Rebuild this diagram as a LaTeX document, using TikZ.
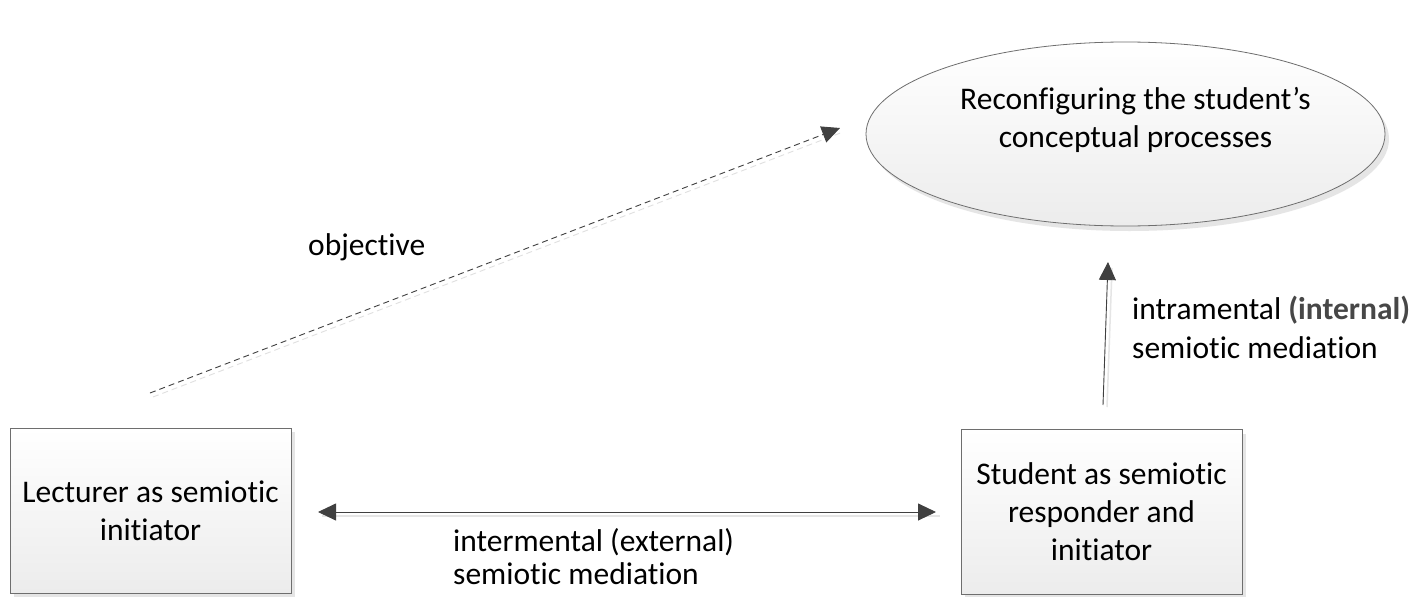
\documentclass[tikz,border=0pt]{standalone}
\usepackage{fontspec}
\setmainfont{Carlito}[Ligatures=NoCommon]
\usetikzlibrary{arrows.meta,shadows,shapes.geometric,calc}
\definecolor{edge}{RGB}{110,110,110}
\definecolor{fillhi}{RGB}{255,255,255}
\definecolor{filllo}{RGB}{236,236,236}
\definecolor{arrowgray}{RGB}{64,64,64}
\begin{document}
\begin{tikzpicture}[x=1pt,y=-1pt,
  every node/.style={font=\fontsize{31.5}{38}\selectfont, text=black},
  box/.style={draw=edge, line width=0.8pt, top color=fillhi, bottom color=filllo,
    minimum width=281pt, minimum height=165pt, align=center, inner sep=0pt,
    drop shadow={shadow xshift=4pt, shadow yshift=-4pt, fill=black!10, opacity=1}},
  goal/.style={ellipse, draw=edge, line width=0.8pt, top color=fillhi, bottom color=filllo,
    minimum width=519pt, minimum height=184pt, inner sep=0pt,
    drop shadow={shadow xshift=4pt, shadow yshift=-5pt, fill=black!10, opacity=1}},
  link/.style={draw=arrowgray, line width=0.9pt},
  tip/.style={-{Triangle[length=18pt,width=17pt]}},
  lbl/.style={align=left, anchor=north west, inner sep=0pt}
]
\useasboundingbox (0,0) rectangle (1422,597);
\fill[white] (0,0) rectangle (1422,597);

% nodes
\node[box] (lect) at (150.5,510.5) {Lecturer as semiotic\\initiator};
\node[box] (stud) at (1101.5,512) {Student as semiotic\\responder and\\initiator};
\node[goal] (goal) at (1125.5,134) {};
\node[align=center, inner sep=0pt] (goaltext) at ($(goal.center)+(10,-14)$)
  {Reconfiguring the student’s\\conceptual processes};

% connector ends
\coordinate (objs) at (150,393);
\coordinate (obje) at (840,128);
\coordinate (ints) at (1103,405);
\coordinate (inte) at (1108,262);
\coordinate (exts) at (318,512);
\coordinate (exte) at (936,512);

% objective (dashed)
\draw[link, draw=black!12, dashed, dash pattern=on 6pt off 4pt] ($(objs)+(3,4)$) -- ($(obje)+(3,4)$);
\draw[link, dashed, dash pattern=on 6pt off 4pt, tip] (objs) -- (obje);
\node[anchor=west, inner sep=0pt] (objl) at (308,247) {objective};

% intramental
\draw[link, draw=black!10, line width=1.5pt] ($(ints)+(4,2)$) -- ($(inte)+(4,6)$);
\draw[link, tip] (ints) -- (inte);
\node[lbl, font=\fontsize{31.5}{38.5}\selectfont] (intl) at (1132,296)
  {intramental {\color{black!72}\bfseries(internal)}\\semiotic mediation};

% intermental
\draw[link, draw=black!10, line width=1.5pt] ($(exts)+(4,4)$) -- ($(exte)+(4,4)$);
\draw[link, {Triangle[length=18pt,width=17pt]}-{Triangle[length=18pt,width=17pt]}] (exts) -- (exte);
\node[lbl, font=\fontsize{31.5}{33}\selectfont] (extl) at (453,528)
  {intermental (external)\\semiotic mediation};
\end{tikzpicture}
\end{document}
